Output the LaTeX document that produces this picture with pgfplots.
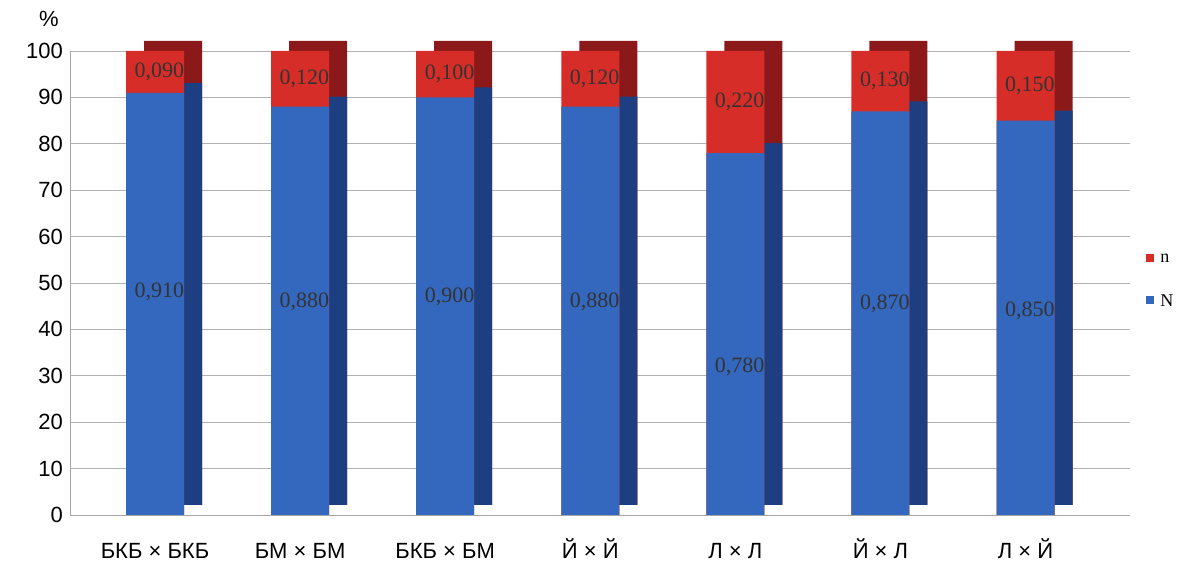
\documentclass[border=0pt]{standalone}
\usepackage{pgfplots}
\pgfplotsset{compat=1.18}
\usepackage{fontspec}
\setmainfont{Liberation Sans}
\newfontfamily\serif{Liberation Serif}
\definecolor{bblue}{RGB}{52,104,190}
\definecolor{dblue}{RGB}{30,62,130}
\definecolor{rred}{RGB}{215,45,40}
\definecolor{dred}{RGB}{140,25,25}
\begin{document}
\begin{tikzpicture}
\path[use as bounding box] (-35pt,-23.5pt) rectangle (559.5pt,257.5pt);
\begin{axis}[
  scale only axis, width=530pt, height=232pt,
  at={(0,0)}, anchor=south west,
  xmin=-0.586, xmax=6.72, ymin=0, ymax=100,
  ytick={0,10,...,100}, xtick={0,...,6},
  xticklabels={БКБ × БКБ, БМ × БМ, БКБ × БМ, Й × Й, Л × Л, Й × Л, Л × Й},
  xticklabel style={text height=8pt, text depth=2pt, yshift=-6pt},
  ymajorgrids, grid style={gray!60},
  axis line style={gray!70}, axis x line*=bottom, axis y line*=left,
  major tick style={draw=none},
  tick label style={font=\fontsize{11}{12}\selectfont},
  /pgf/number format/assume math mode=true,
  ybar, bar width=29pt, bar shift=0pt,
  clip=false,
]
\addplot[fill=dred, draw=none, xshift=9pt, yshift=5pt] coordinates {(0,100)(1,100)(2,100)(3,100)(4,100)(5,100)(6,100)};
\addplot[fill=dblue, draw=none, xshift=9pt, yshift=5pt] coordinates {(0,91)(1,88)(2,90)(3,88)(4,78)(5,87)(6,85)};
\addplot[fill=rred, draw=none] coordinates {(0,100)(1,100)(2,100)(3,100)(4,100)(5,100)(6,100)};
\addplot[fill=bblue, draw=none] coordinates {(0,91)(1,88)(2,90)(3,88)(4,78)(5,87)(6,85)};
\tikzset{vl/.style={font=\serif\fontsize{11}{12}\selectfont, text=black!80}}
\node[vl] at (axis cs:0.03,48) {0,910}; \node[vl] at (axis cs:0.03,95.5) {0,090};
\node[vl] at (axis cs:1.03,46) {0,880}; \node[vl] at (axis cs:1.03,94) {0,120};
\node[vl] at (axis cs:2.03,47) {0,900}; \node[vl] at (axis cs:2.03,95) {0,100};
\node[vl] at (axis cs:3.03,46) {0,880}; \node[vl] at (axis cs:3.03,94) {0,120};
\node[vl] at (axis cs:4.03,32) {0,780}; \node[vl] at (axis cs:4.03,89) {0,220};
\node[vl] at (axis cs:5.03,45.5) {0,870}; \node[vl] at (axis cs:5.03,93.5) {0,130};
\node[vl] at (axis cs:6.03,44) {0,850}; \node[vl] at (axis cs:6.03,92.5) {0,150};
\node at (rel axis cs:-0.02,1.07) {\fontsize{11}{12}\selectfont\%};
\fill[rred] (rel axis cs:1.015,0.545) rectangle ++(4pt,4pt);
\node[anchor=west, font=\serif\small] at (rel axis cs:1.022,0.553) {n};
\fill[bblue] (rel axis cs:1.015,0.455) rectangle ++(4pt,4pt);
\node[anchor=west, font=\serif\small] at (rel axis cs:1.022,0.463) {N};
\end{axis}
\end{tikzpicture}
\end{document}
